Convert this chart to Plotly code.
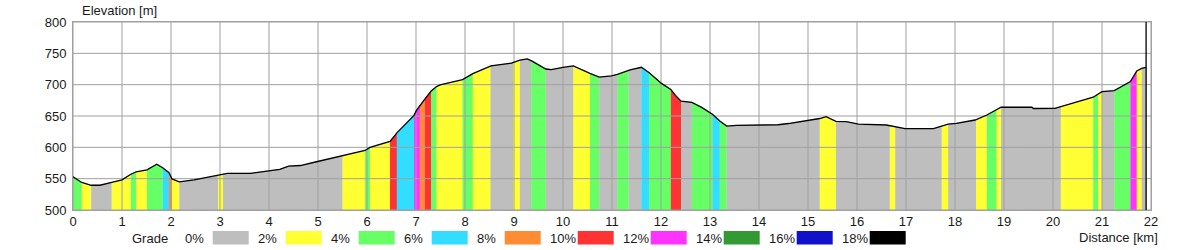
import numpy as np
import plotly.graph_objects as go

# ---------------- data ----------------
profile_km = [0.00, 0.18, 0.37, 0.55, 0.79, 1.00, 1.18, 1.29, 1.51, 1.71, 1.83, 1.96, 2.02, 2.17,
              2.47, 2.81, 3.15, 3.62, 3.96, 4.22, 4.40, 4.64, 4.97, 5.48, 5.96, 6.06, 6.47, 6.61,
              6.96, 7.01, 7.08, 7.18, 7.31, 7.42, 7.49, 7.95, 8.16, 8.53, 8.95, 9.12, 9.27, 9.36,
              9.65, 9.76, 10.00, 10.21, 10.55, 10.74, 10.99, 11.11, 11.37, 11.60, 11.76, 12.01,
              12.20, 12.29, 12.41, 12.63, 12.83, 13.05, 13.20, 13.34, 13.54, 14.39, 14.60, 14.94,
              15.24, 15.37, 15.57, 15.78, 16.03, 16.60, 16.78, 16.98, 17.56, 17.73, 17.86, 18.03,
              18.24, 18.41, 18.65, 18.85, 18.94, 19.57, 19.60, 20.04, 20.16, 20.82, 21.00, 21.25,
              21.58, 21.71, 21.81, 21.90]
profile_elev = [553, 544, 539.5, 539.5, 544, 548, 557, 561, 564, 573, 567.5, 559.5, 549.5, 545,
                548, 553, 558.5, 558.5, 562, 565, 570, 571, 577, 586, 595, 600, 609.5, 623,
                651, 659, 667, 677, 690, 697, 699.5, 708, 717.5, 730, 734.5, 739, 741, 738,
                725, 724, 727.5, 730, 718, 712, 714, 716.5, 723.5, 727.7, 719, 702,
                692.5, 683.3, 673.8, 671.8, 663.8, 652.7, 642, 634, 635, 636, 638, 642.5,
                646, 649, 641.5, 641, 637, 635.6, 633, 629.7, 629.7, 634, 637, 638.3,
                641, 643.6, 651.6, 659.6, 664, 664, 662, 662.3, 665, 680, 688.8, 690.4,
                705, 722, 726, 727.7]

# grade bands: start km, end km, grade class index (0 -> 0%, 1 -> 2%, ...)
band_start = [0.00, 0.18, 0.37, 0.79, 1.18, 1.29, 1.51, 1.83, 1.96, 2.02, 2.17, 2.96, 3.06, 5.50,
              5.96, 6.06, 6.47, 6.61, 6.96, 7.08, 7.18, 7.31, 7.42, 7.95, 8.16, 8.52, 8.98, 9.12,
              9.35, 9.65, 10.21, 10.55, 10.74, 11.11, 11.34, 11.60, 11.76, 12.20, 12.41, 12.63,
              13.05, 13.20, 13.34, 15.24, 15.57, 16.67, 16.78, 17.73, 17.86, 18.43, 18.65, 18.85,
              18.94, 20.16, 20.82, 20.92, 21.00, 21.25, 21.58, 21.71, 21.81]
band_end = band_start[1:] + [21.90]
band_class = [2, 1, 0, 1, 2, 1, 2, 3, 4, 1, 0, 1, 0, 1,
              2, 1, 5, 3, 6, 4, 5, 2, 1, 2, 1, 0, 1, 0,
              2, 0, 1, 2, 0, 2, 0, 3, 2, 5, 0, 2,
              3, 2, 0, 1, 0, 1, 0, 1, 0, 1, 2, 1,
              0, 1, 2, 1, 0, 2, 6, 1, 0]

grade_labels = ["0%", "2%", "4%", "6%", "8%", "10%", "12%", "14%", "16%", "18%"]
grade_colors = ["#BEBEBE", "#FFFF33", "#66FF66", "#33DDFF", "#FF8C33",
                "#FF3333", "#FF33FF", "#339933", "#1111CC", "#000000"]

x_ticks = list(range(0, 23))
y_ticks = [500, 550, 600, 650, 700, 750, 800]
x_range = [0, 22]
y_range = [500, 800]
end_km = 21.90

# ---------------- layout constants ----------------
W, H = 1200, 250
L, R, T, B = 73, 1151, 22, 210
FONT = "Liberation Sans, Arial, sans-serif"
TXT = "#1a1a1a"
GRID = "#A0A0A0"

def px_x(p):
    return (p - L) / (R - L)

def px_y(p):
    return (B - p) / (B - T)

fig = go.Figure()
pk = np.array(profile_km)
pe = np.array(profile_elev)

for a, b, c in zip(band_start, band_end, band_class):
    inner = (pk > a) & (pk < b)
    xs = [a] + list(pk[inner]) + [b]
    ys = list(np.interp(xs, pk, pe))
    xs_poly = xs + [b, a]
    ys_poly = ys + [y_range[0], y_range[0]]
    fig.add_trace(go.Scatter(x=xs_poly, y=ys_poly, fill="toself", mode="lines",
                             fillcolor=grade_colors[c],
                             line=dict(color=grade_colors[c], width=0.6),
                             hoverinfo="skip", showlegend=False))

# grid lines over the fill
gx, gy = [], []
for t in x_ticks:
    gx += [t, t, None]
    gy += [y_range[0], y_range[1], None]
for t in y_ticks:
    gx += [x_range[0], x_range[1], None]
    gy += [t, t, None]
fig.add_trace(go.Scatter(x=gx, y=gy, mode="lines", line=dict(color=GRID, width=1),
                         hoverinfo="skip", showlegend=False))

# profile line
fig.add_trace(go.Scatter(x=profile_km, y=profile_elev, mode="lines",
                         line=dict(color="black", width=1.3), showlegend=False))
# end marker
fig.add_trace(go.Scatter(x=[end_km, end_km], y=y_range, mode="lines",
                         line=dict(color="black", width=1.3), showlegend=False))

axis_common = dict(showgrid=False, zeroline=False, showline=True, mirror=True,
                   linecolor=GRID, linewidth=1,
                   tickfont=dict(family=FONT, size=13, color=TXT))
fig.update_xaxes(range=x_range, tickvals=x_ticks, ticktext=[str(t) for t in x_ticks],
                 ticks="", ticklabelstandoff=-1, **axis_common)
fig.update_yaxes(range=y_range, tickvals=y_ticks, ticktext=[str(t) for t in y_ticks],
                 ticks="outside", ticklen=3, tickcolor="rgba(0,0,0,0)", **axis_common)

annotations = [
    dict(text="Elevation [m]", x=px_x(80), y=px_y(11), xanchor="left", yanchor="middle"),
    dict(text="Distance [km]", x=px_x(1160), y=px_y(237), xanchor="right", yanchor="middle"),
    dict(text="Grade", x=px_x(130), y=px_y(238), xanchor="left", yanchor="middle"),
]
shapes = []
for i, (lab, col) in enumerate(zip(grade_labels, grade_colors)):
    bx = 212.7 + 73 * i
    annotations.append(dict(text=lab, x=px_x(bx - 30), y=px_y(238), xanchor="left", yanchor="middle"))
    shapes.append(dict(type="rect", xref="paper", yref="paper",
                       x0=px_x(bx), x1=px_x(bx + 36), y0=px_y(244.5), y1=px_y(231),
                       fillcolor=col, line=dict(width=0)))
for a in annotations:
    a.update(xref="paper", yref="paper", showarrow=False,
             font=dict(family=FONT, size=13, color=TXT))

fig.update_layout(width=W, height=H, margin=dict(l=L, r=W - R, t=T, b=H - B),
                  paper_bgcolor="white", plot_bgcolor="white",
                  annotations=annotations, shapes=shapes, showlegend=False)

fig.write_html("out.html")
